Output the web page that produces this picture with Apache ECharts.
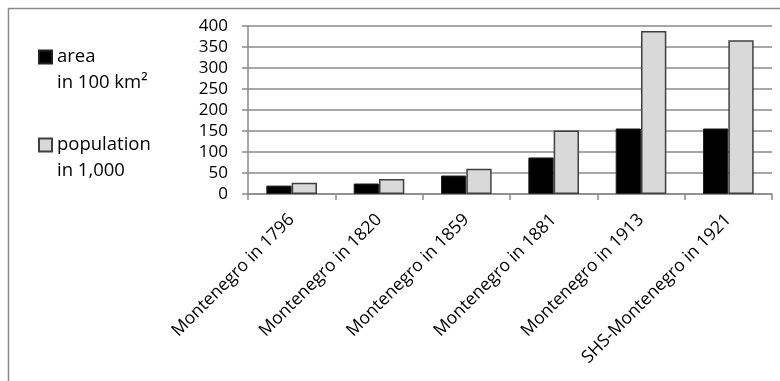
<!DOCTYPE html>
<html>
<head>
<meta charset="utf-8">
<script src="https://cdn.jsdelivr.net/npm/echarts@6/dist/echarts.min.js"></script>
<style>
  html, body { margin: 0; padding: 0; background: #fff; }
  #chart { width: 780px; height: 381px; }
</style>
</head>
<body>
<div id="chart"></div>
<script>
// Montenegro: territory and population over time
const categories = [
  'Montenegro in 1796',
  'Montenegro in 1820',
  'Montenegro in 1859',
  'Montenegro in 1881',
  'Montenegro in 1913',
  'SHS-Montenegro in 1921'
];
const areaValues = [20, 25, 44, 87, 156, 156];          // area in 100 km²
const populationValues = [27, 36, 60, 151, 388, 366];   // population in 1,000
const seriesNames = ['area\nin 100 km²', 'population\nin 1,000'];
const yTicks = { min: 0, max: 400, interval: 50 };

const FONT = '"Open Sans", sans-serif';
const AXIS_GREY = '#8a8a8a';
const chart = echarts.init(document.getElementById('chart'), null, { renderer: 'canvas' });

chart.setOption({
  animation: false,
  backgroundColor: '#fff',
  graphic: [{
    type: 'rect',
    left: 6, top: 6,
    shape: { width: 790, height: 400 },
    style: { fill: 'none', stroke: AXIS_GREY, lineWidth: 1.5 },
    silent: true,
    z: -1
  }],
  legend: {
    orient: 'vertical',
    left: 38,
    top: 18,
    padding: 0,
    itemGap: 10,
    itemWidth: 13,
    itemHeight: 13,
    icon: 'rect',
    // a blank leading line keeps the swatch level with the first text line
    formatter: name => '\n' + name,
    textStyle: {
      fontFamily: FONT,
      fontSize: 18.5,
      color: '#000',
      lineHeight: 26
    },
    data: seriesNames
  },
  grid: { left: 248, right: 8, top: 26, bottom: 187 },
  xAxis: {
    type: 'category',
    data: categories,
    axisLine: { lineStyle: { color: AXIS_GREY, width: 1.5 } },
    axisTick: { show: true, length: 6, lineStyle: { color: AXIS_GREY, width: 1.5 } },
    axisLabel: {
      rotate: 45,
      interval: 0,
      margin: 23,
      fontFamily: FONT,
      fontSize: 17.5,
      color: '#000'
    }
  },
  yAxis: {
    type: 'value',
    min: yTicks.min,
    max: yTicks.max,
    interval: yTicks.interval,
    axisLine: { show: true, lineStyle: { color: AXIS_GREY, width: 1.5 } },
    axisTick: { show: true, length: 6, lineStyle: { color: AXIS_GREY, width: 1.5 } },
    splitLine: { lineStyle: { color: AXIS_GREY, width: 1.5 } },
    axisLabel: {
      margin: 20,
      fontFamily: FONT,
      fontSize: 17,
      color: '#000'
    }
  },
  series: [
    {
      name: seriesNames[0],
      type: 'bar',
      data: areaValues,
      barGap: '0%',
      barCategoryGap: '42%',
      itemStyle: { color: '#000', borderColor: '#222', borderWidth: 1 }
    },
    {
      name: seriesNames[1],
      type: 'bar',
      data: populationValues,
      itemStyle: { color: '#d9d9d9', borderColor: '#404040', borderWidth: 1.5 }
    }
  ]
});
</script>
</body>
</html>
